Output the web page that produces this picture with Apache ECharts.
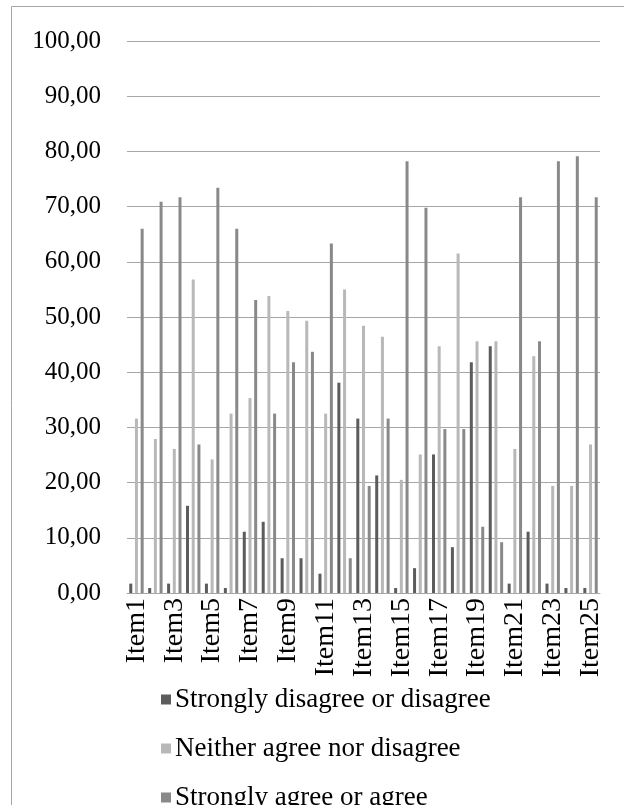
<!DOCTYPE html>
<html>
<head>
<meta charset="utf-8">
<script src="https://cdn.jsdelivr.net/npm/echarts@6/dist/echarts.min.js"></script>
<style>
html,body{margin:0;padding:0;background:#fff;}
#c{width:624px;height:805px;}
</style>
</head>
<body>
<div id="c"></div>
<script>
var categories = ['Item1','Item2','Item3','Item4','Item5','Item6','Item7','Item8','Item9','Item10','Item11','Item12','Item13','Item14','Item15','Item16','Item17','Item18','Item19','Item20','Item21','Item22','Item23','Item24','Item25'];
var seriesNames = ['Strongly disagree or disagree','Neither agree nor disagree','Strongly agree or agree'];
var disagree = [1.7,0.9,1.7,15.8,1.7,0.9,11.1,12.9,6.3,6.3,3.5,38.1,31.6,21.3,0.9,4.5,25.1,8.3,41.8,44.7,1.7,11.1,1.7,0.9,0.9];
var neither  = [31.6,27.9,26.1,56.8,24.2,32.5,35.3,53.8,51.1,49.3,32.5,55.0,48.4,46.4,20.5,25.1,44.7,61.5,45.6,45.6,26.1,42.9,19.4,19.4,26.9];
var agree    = [66.0,70.9,71.7,26.9,73.4,66.0,53.1,32.5,41.8,43.7,63.3,6.3,19.4,31.6,78.2,69.8,29.7,29.7,12.0,9.2,71.7,45.6,78.2,79.1,71.7];
var yTicks = {min:0, max:100, interval:10};

var colors = ['#5c5c5c','#b8b8b8','#898989'];
var font = '"Liberation Serif","Times New Roman",serif';
var chart = echarts.init(document.getElementById('c'), null, {renderer:'canvas'});
function mk(name, data, color){
  return {name:name, type:'bar', data:data, barWidth:3, barGap:'90%',
    itemStyle:{color:color}, animation:false};
}
function lg(i, top){
  return {orient:'vertical', left:161, top:top, itemWidth:10, itemHeight:10, itemGap:0,
    icon:'rect', padding:0, textStyle:{fontFamily:font, fontSize:27, color:'#000', padding:[0,0,0,-1]},
    data:[seriesNames[i]]};
}
chart.setOption({
  animation:false,
  textStyle:{fontFamily:font},
  grid:{left:127, right:24, top:41, bottom:212, containLabel:false},
  xAxis:{type:'category', data:categories,
    axisLine:{show:true, lineStyle:{color:'#a6a6a6', width:1}},
    axisTick:{show:false},
    axisLabel:{rotate:90, interval:1, margin:5, color:'#000', fontFamily:font, fontSize:28}
  },
  yAxis:{type:'value', min:yTicks.min, max:yTicks.max, interval:yTicks.interval,
    axisLine:{show:false}, axisTick:{show:false},
    splitLine:{lineStyle:{color:'#a6a6a6', width:1}},
    axisLabel:{margin:26, color:'#000', fontFamily:font, fontSize:25,
      formatter:function(v){return v.toFixed(2).replace('.',',');}}
  },
  legend:[lg(0,686), lg(1,735), lg(2,784)],
  series:[mk(seriesNames[0],disagree,colors[0]), mk(seriesNames[1],neither,colors[1]), mk(seriesNames[2],agree,colors[2])],
  graphic:[
    {type:'line', shape:{x1:11.5,y1:6.5,x2:624,y2:6.5}, style:{stroke:'#a6a6a6', lineWidth:1}},
    {type:'line', shape:{x1:11.5,y1:6.5,x2:11.5,y2:805}, style:{stroke:'#a6a6a6', lineWidth:1}}
  ]
});
</script>
</body>
</html>
